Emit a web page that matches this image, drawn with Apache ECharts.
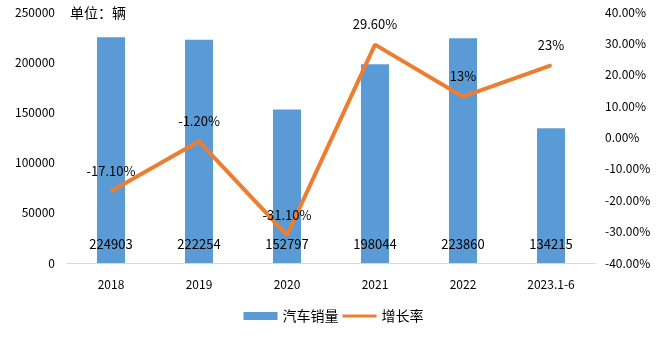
<!DOCTYPE html>
<html>
<head>
<meta charset="utf-8">
<script src="https://cdn.jsdelivr.net/npm/echarts@6/dist/echarts.min.js"></script>
<style>
  html, body { margin: 0; padding: 0; background: #fff; }
  #chart { width: 667px; height: 341px; }
</style>
</head>
<body>
<div id="chart"></div>
<script>
const categories = ['2018', '2019', '2020', '2021', '2022', '2023.1-6'];
const sales = [224903, 222254, 152797, 198044, 223860, 134215];
const growth = [-17.1, -1.2, -31.1, 29.6, 13, 23];
const leftTicks = [0, 50000, 100000, 150000, 200000, 250000];
const rightTicks = [-40, -30, -20, -10, 0, 10, 20, 30, 40];

const FONT = '"Noto Sans CJK SC", "Noto Sans", sans-serif';

const chart = echarts.init(document.getElementById('chart'), null, { renderer: 'canvas' });

function pct(v) {
  return Number.isInteger(v) ? v + '%' : v.toFixed(2) + '%';
}

chart.setOption({
  animation: false,
  textStyle: { fontFamily: FONT },
  grid: { left: 67, right: 72, top: 12, bottom: 78 },
  graphic: [{
    type: 'text',
    left: 70,
    top: 6,
    style: { text: '单位：辆', fontSize: 14, fill: '#000', fontFamily: FONT }
  }],
  legend: {
    bottom: 13,
    left: 'center',
    itemGap: 4,
    itemWidth: 34,
    itemHeight: 8,
    textStyle: { fontSize: 14, color: '#000', fontFamily: FONT },
    data: [
      { name: '汽车销量', icon: 'rect' },
      { name: '增长率', icon: 'path://M0,0 L34,0 L34,3 L0,3 Z', itemStyle: { color: '#ED7D31', opacity: 1 } }
    ]
  },
  xAxis: {
    type: 'category',
    data: categories,
    axisLine: { lineStyle: { color: '#d9d9d9', width: 1 } },
    axisTick: { show: false },
    axisLabel: { color: '#000', fontSize: 12, margin: 15, fontFamily: FONT }
  },
  yAxis: [
    {
      type: 'value',
      min: leftTicks[0],
      max: leftTicks[leftTicks.length - 1],
      interval: leftTicks[1] - leftTicks[0],
      splitLine: { show: false },
      axisLine: { show: false },
      axisTick: { show: false },
      axisLabel: {
        color: '#000', fontSize: 12, margin: 12, fontFamily: FONT,
        formatter: v => String(v)
      }
    },
    {
      type: 'value',
      min: rightTicks[0],
      max: rightTicks[rightTicks.length - 1],
      interval: rightTicks[1] - rightTicks[0],
      splitLine: { show: false },
      axisLine: { show: false },
      axisTick: { show: false },
      axisLabel: {
        color: '#000', fontSize: 12, margin: 10, fontFamily: FONT,
        formatter: v => v.toFixed(2) + '%'
      }
    }
  ],
  series: [
    {
      name: '汽车销量',
      type: 'bar',
      data: sales,
      barWidth: 28,
      itemStyle: { color: '#5B9BD5' },
      label: {
        show: true,
        position: 'insideBottom',
        distance: 12,
        color: '#000',
        fontSize: 13,
        fontFamily: FONT
      }
    },
    {
      name: '增长率',
      type: 'line',
      yAxisIndex: 1,
      data: growth,
      showSymbol: true,
      symbol: 'circle',
      symbolSize: 2,
      lineStyle: { color: '#ED7D31', width: 4 },
      itemStyle: { color: '#ED7D31' },
      label: {
        show: true,
        position: 'top',
        distance: 13,
        color: '#000',
        fontSize: 13,
        fontFamily: FONT,
        formatter: p => pct(p.value)
      },
      labelLayout: { hideOverlap: false }
    }
  ]
});
</script>
</body>
</html>
